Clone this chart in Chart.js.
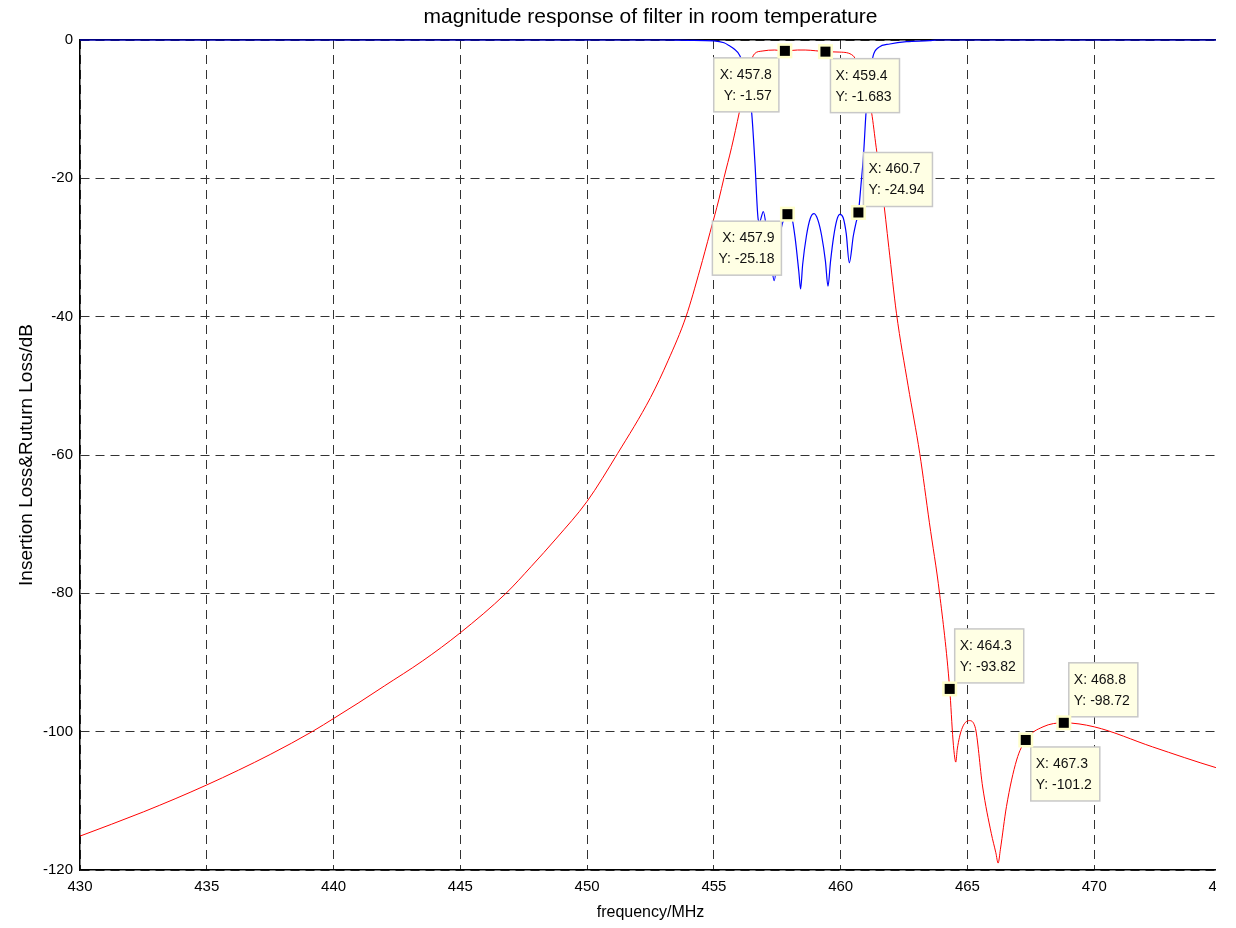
<!DOCTYPE html>
<html>
<head>
<meta charset="utf-8">
<title>magnitude response of filter in room temperature</title>
<script src="https://cdn.jsdelivr.net/npm/chart.js@4.4.0/dist/chart.umd.min.js"></script>
<style>
  html, body { margin: 0; padding: 0; background: #fff; }
  #wrap { width: 1216px; height: 928px; overflow: hidden; }
</style>
</head>
<body>
<div id="wrap"><canvas id="chart" width="1236" height="928"></canvas></div>
<script>
// insertion loss (red)
const freqS21 = [430, 432.5, 435, 437.5, 439.2, 440, 441, 442, 443.5, 445, 446.8, 447.8, 448.8, 450,
  451.2, 452.5, 453.2, 453.9, 454.45, 454.85, 455.2, 455.4, 455.7, 456.0, 456.25, 456.45, 456.6, 456.9,
  457.4, 457.8, 458.3, 458.6, 459.0, 459.4, 459.97, 460.5, 460.75, 461.0, 461.22, 461.4, 461.65, 461.9,
  462.2, 462.66, 463.12, 463.5, 463.9, 464.3, 464.43, 464.5, 464.54, 464.6, 464.77, 465.07, 465.3, 465.6,
  465.94, 466.12, 466.21, 466.3, 466.54, 466.94, 467.3, 467.98, 468.8, 470, 472.3, 474.8, 475];
const lossS21 = [-115.1, -111.6, -107.7, -103.3, -99.9, -98.1, -95.8, -93.4, -89.8, -85.7, -80, -76.1, -72.0, -66.7,
  -59.8, -51.7, -46.3, -40, -33.2, -27.8, -23.0, -19.9, -15.5, -10.5, -6.0, -3.2, -2.0, -1.6,
  -1.45, -1.57, -1.45, -1.45, -1.55, -1.683, -1.75, -2.3, -4.5, -7, -10.5, -15.5, -22, -30,
  -39.5, -50.0, -59.8, -69.8, -80, -93.82, -101.2, -103.8, -104.4, -102.5, -99.7, -98.4, -99.3, -108,
  -114.7, -117.5, -119, -117, -110.8, -104.1, -101.2, -99.3, -98.72, -99.3, -102.2, -105.2, -105.4];

// return loss (blue)
const freqS11 = [430, 453, 454, 455, 455.4, 455.6, 455.8, 456.03, 456.32, 456.49, 456.62, 456.75, 456.8,
  456.95, 457.1, 457.25, 457.38, 457.5, 457.67, 457.9, 457.97, 458.06, 458.2, 458.35, 458.42, 458.5, 458.65,
  458.8, 458.95, 459.1, 459.25, 459.4, 459.5, 459.6, 459.72, 459.85, 459.97, 460.1, 460.22, 460.34, 460.5,
  460.6, 460.7, 460.8, 460.9, 461.0, 461.1, 461.28, 461.5, 461.94, 462.6, 463.5, 463.8, 475];
const lossS11 = [0, 0, -0.05, -0.12, -0.4, -0.8, -1.3, -2.3, -6.2, -10.5, -17.8, -26.0, -26.3,
  -24.8, -28, -32, -34.8, -31.5, -27, -25.18, -25.0, -25.4, -28.5, -33.5, -36.0, -32.5, -28.3,
  -25.8, -25.1, -26.0, -28.3, -32, -35.6, -32, -28.5, -26.0, -25.2, -25.7, -28, -32.2, -28.3,
  -26.5, -24.94, -21, -16.7, -10.5, -6.5, -2.3, -1.06, -0.58, -0.24, -0.1, 0, 0];

const xTicks = [430, 435, 440, 445, 450, 455, 460, 465, 470, 475];
const yTicks = [-120, -100, -80, -60, -40, -20, 0];

// data cursors
const tipX = [457.8, 459.4, 460.7, 457.9, 464.3, 468.8, 467.3];
const tipY = [-1.57, -1.683, -24.94, -25.18, -93.82, -98.72, -101.2];
const tipSide = ['sw', 'se', 'ne', 'sw', 'ne', 'ne', 'se'];

const FONT = '"Liberation Sans", Arial, Helvetica, sans-serif';
Chart.defaults.font.family = FONT;
Chart.defaults.color = '#000';

const dataTips = {
  id: 'dataTips',
  afterDatasetsDraw(chart) {
    const { ctx, scales: { x, y } } = chart;
    ctx.save();
    ctx.font = '14px ' + FONT;
    ctx.textBaseline = 'middle';
    tipX.forEach((fx, i) => {
      const px = x.getPixelForValue(fx);
      const py = y.getPixelForValue(tipY[i]);
      const lines = ['X: ' + fx, 'Y: ' + tipY[i]];
      const w = Math.max(...lines.map(t => ctx.measureText(t).width)) + 13;
      const h = 54;
      const side = tipSide[i];
      const bx = side[1] === 'w' ? px - 6 - w : px + 5;
      const by = side[0] === 'n' ? py - 6 - h : py + 7;

      ctx.fillStyle = '#ffffe4';
      ctx.fillRect(bx, by, w, h);
      ctx.strokeStyle = '#c8c8c8';
      ctx.lineWidth = 1.5;
      ctx.strokeRect(bx, by, w, h);

      ctx.fillStyle = '#111';
      let tx;
      if (side[1] === 'w') {
        ctx.textAlign = 'right';
        tx = bx + w - 7;
      } else {
        ctx.textAlign = 'left';
        tx = bx + 5;
      }
      ctx.fillText(lines[0], tx, by + 17);
      ctx.fillText(lines[1], tx, by + 38);

      // marker
      ctx.fillStyle = '#ffffcc';
      ctx.fillRect(px - 7.5, py - 7.5, 15, 15);
      ctx.fillStyle = '#000';
      ctx.fillRect(px - 5, py - 5, 10, 10);
    });
    ctx.restore();
  }
};

const toPoints = (xs, ys) => xs.map((v, i) => ({ x: v, y: ys[i] }));

new Chart(document.getElementById('chart'), {
  type: 'scatter',
  data: {
    datasets: [
      {
        label: 'S21',
        data: toPoints(freqS21, lossS21),
        showLine: true,
        borderColor: '#ff0000',
        borderWidth: 1,
        pointRadius: 0,
        cubicInterpolationMode: 'monotone'
      },
      {
        label: 'S11',
        data: toPoints(freqS11, lossS11),
        showLine: true,
        borderColor: '#0000ff',
        borderWidth: 1.2,
        pointRadius: 0,
        cubicInterpolationMode: 'monotone',
        clip: 3
      }
    ]
  },
  options: {
    responsive: false,
    animation: false,
    layout: { padding: { left: 0, right: 15, top: 0, bottom: 0 } },
    plugins: {
      legend: { display: false },
      tooltip: { enabled: false }
    },
    scales: {
      x: {
        type: 'linear',
        position: 'bottom',
        min: 430,
        max: 475,
        afterBuildTicks: (s) => { s.ticks = xTicks.map(v => ({ value: v })); },
        afterFit: (s) => { s.height = 58; s.paddingLeft = 0; s.paddingRight = 0; },
        ticks: { font: { size: 15 }, padding: 8, maxRotation: 0, autoSkip: false },
        grid: { color: '#333', lineWidth: 1, drawTicks: false },
        border: { display: true, color: '#000', width: 1.5, dash: [9, 6] },
        title: { display: true, text: 'frequency/MHz', font: { size: 16 }, padding: { top: 0, bottom: 6 } }
      },
      xTop: {
        type: 'linear',
        position: 'top',
        min: 430,
        max: 475,
        afterFit: (s) => { s.height = 40; s.paddingLeft = 0; s.paddingRight = 0; },
        ticks: { display: false },
        grid: { display: false, drawTicks: false },
        border: { display: true, color: '#000', width: 1.5 },
        title: {
          display: true,
          text: 'magnitude response of filter in room temperature',
          font: { size: 21 },
          padding: { top: 5, bottom: 0 }
        }
      },
      y: {
        type: 'linear',
        position: 'left',
        min: -120,
        max: 0,
        afterBuildTicks: (s) => { s.ticks = yTicks.map(v => ({ value: v })); },
        afterFit: (s) => { s.width = 80; s.paddingTop = 0; s.paddingBottom = 0; },
        ticks: { font: { size: 15 }, padding: 7 },
        grid: { color: '#333', lineWidth: 1, drawTicks: false },
        border: { display: true, color: '#000', width: 1.5, dash: [9, 6] },
        title: { display: true, text: 'Insertion Loss&Ruturn Loss/dB', font: { size: 19 }, padding: { top: 15, bottom: 0 } }
      }
    }
  },
  plugins: [dataTips]
});
</script>
</body>
</html>
